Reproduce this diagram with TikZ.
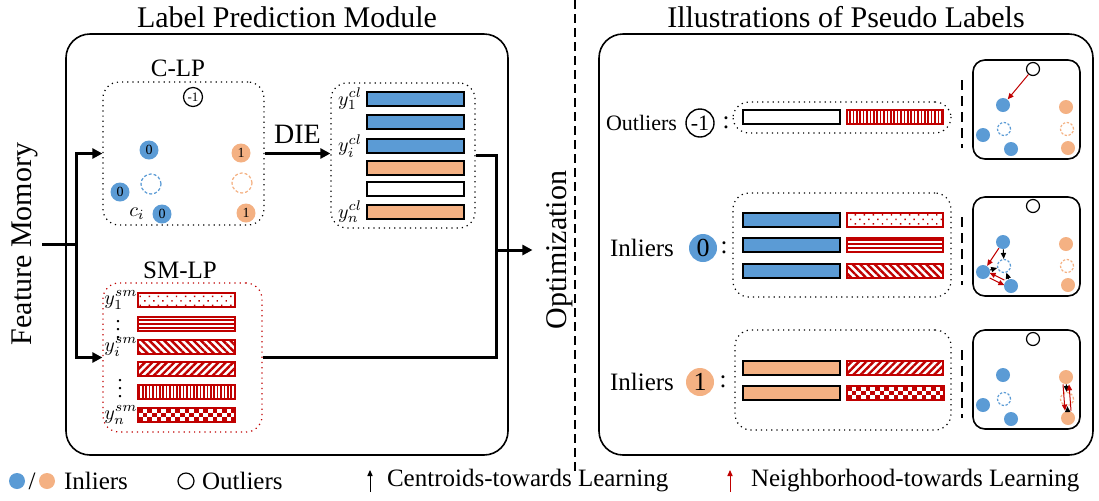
\documentclass[tikz,border=0pt]{standalone}
\usepackage{fontspec}
\setmainfont{Liberation Serif}
\usetikzlibrary{arrows.meta,patterns,patterns.meta,fit}

\definecolor{inblue}{HTML}{5B9BD5}
\definecolor{inorange}{HTML}{F4B183}
\definecolor{plred}{HTML}{C00000}

\tikzset{
  outerbox/.style={draw, line width=0.8pt, rounded corners=12pt, inner sep=0pt},
  dotbox/.style={draw, dotted, line width=0.6pt, rounded corners=8pt, inner sep=0pt},
  minibox/.style={draw, line width=0.8pt, rounded corners=6pt, inner sep=0pt},
  title/.style={font=\fontsize{15}{18}\selectfont},
  flow/.style={line width=1.5pt, -{Triangle[length=5pt,width=5pt]}},
  wire/.style={line width=1.5pt},
  sepline/.style={line width=1pt, dash pattern=on 4.5pt off 2.5pt},
  rowsep/.style={line width=1.3pt, dash pattern=on 5pt off 3pt},
  % circles of the C-LP panel
  bdot/.style={circle, fill=inblue, minimum size=9.5pt, inner sep=0pt, font=\fontsize{7}{8}\selectfont},
  odot/.style={bdot, fill=inorange},
  bcen/.style={circle, draw=inblue, line width=0.6pt, dash pattern=on 1.5pt off 1pt, minimum size=10pt, inner sep=0pt},
  ocen/.style={bcen, draw=inorange},
  outl/.style={circle, draw, line width=0.6pt, minimum size=9.5pt, inner sep=0pt, font=\fontsize{6.5}{7}\selectfont},
  % circles of the small illustrations
  mbdot/.style={circle, fill=inblue, minimum size=7pt, inner sep=0pt},
  modot/.style={mbdot, fill=inorange},
  mbcen/.style={circle, draw=inblue, line width=0.6pt, dash pattern=on 1.2pt off 0.8pt, minimum size=6.5pt, inner sep=0pt},
  mocen/.style={mbcen, draw=inorange},
  mout/.style={circle, draw, line width=0.6pt, minimum size=6.5pt, inner sep=0pt},
  cenarr/.style={line width=0.5pt, -{Triangle[length=3pt,width=2.6pt]}},
  nbarr/.style={cenarr, plred},
  % label rows
  bigc/.style={circle, minimum size=14pt, inner sep=0pt, font=\fontsize{13}{15}\selectfont},
  rowtxt/.style={anchor=east, font=\fontsize{12.5}{15}\selectfont},
  ylab/.style={inner sep=0.3pt, font=\fontsize{10}{12}\selectfont},
  legtxt/.style={anchor=west, font=\fontsize{12.5}{15}\selectfont},
  % bars
  bar/.style={draw, line width=0.6pt},
  redbar/.style={draw=plred, line width=0.7pt, pattern color=plred},
  pdots/.style={redbar, pattern={Dots[distance=3.2pt,angle=45,radius=0.5pt]}},
  phor/.style={redbar, pattern={Lines[angle=0,distance=2pt,line width=1pt]}},
  pnw/.style={redbar, pattern={Lines[angle=-45,distance=2.6pt,line width=1.2pt]}},
  pne/.style={redbar, pattern={Lines[angle=45,distance=2.6pt,line width=1.2pt]}},
  pver/.style={redbar, pattern={Lines[angle=90,distance=1.7pt,line width=0.8pt]}}
}

% checkerboard bar: #1 = left x, #2 = centre y
\newcommand{\chkbar}[2]{%
  \begin{scope}
    \clip (#1,{#2-7}) rectangle ({#1+97},{#2+7});
    \foreach \i in {0,...,20}{
      \foreach \j in {0,1,2}{
        \pgfmathparse{int(mod(\i+\j,2))}
        \ifnum\pgfmathresult=0
          \fill[plred] ({#1+\i*4.67},{#2-7+\j*4.67}) rectangle ++(4.67,4.67);
        \fi
      }
    }
  \end{scope}
  \draw[draw=plred, line width=0.7pt] (#1,{#2-7}) rectangle ({#1+97},{#2+7});
}

\begin{document}
\begin{tikzpicture}[x=0.5pt,y=-0.5pt]
  \useasboundingbox (0,0) rectangle (1099,500);

  % frames and titles
  \node[outerbox, fit={(66,34) (508,455)}] (lpm) {};
  \node[outerbox, fit={(599,34) (1093,455)}] (ipl) {};
  \coordinate (sepT) at (575,0);
  \coordinate (sepB) at (575,475);
  \draw[sepline] (sepT) -- (sepB);
  \node[title] (lpmtitle) at (287,17) {Label Prediction Module};
  \node[title] (ipltitle) at (846,17) {Illustrations of Pseudo Labels};

  % ---- label prediction module
  \node[title, rotate=90, inner sep=2pt] (fm) at (25,244) {Feature Momory};
  \node[title, rotate=90, inner sep=7pt] (opt) at (560,250) {Optimization};

  \node[dotbox, fit={(103,82) (264,225)}] (clp) {};
  \node[title, font=\fontsize{12.5}{15}\selectfont] (clptitle) at (178,68) {C-LP};
  \node[dotbox, draw=plred, fit={(103,283) (262,432)}] (smlp) {};
  \node[title, font=\fontsize{12.5}{15}\selectfont] (smtitle) at (180,270) {SM-LP};
  \node[dotbox, fit={(331,83) (475,228)}] (cl) {};

  % C-LP points
  \node[outl] (c-out) at (193,97) {-1};
  \node[bdot] (c-b1) at (149,150) {0};
  \node[bdot] (c-b2) at (120,192) {0};
  \node[bdot] (c-b3) at (162,214) {0};
  \node[bcen] (c-bc) at (151,184) {};
  \node[ylab] (c-ci) at (137,214) {$c_i$};
  \node[odot] (c-o1) at (241,153) {1};
  \node[odot] (c-o2) at (246,213) {1};
  \node[ocen] (c-oc) at (242,183) {};

  % cluster labels
  \foreach \yc/\col in {99/inblue,122/inblue,146/inblue,168/inorange,189/white,212/inorange}
    \draw[bar, fill=\col] (367,{\yc-7}) rectangle (464,{\yc+7});
  \node[ylab] (cl1) at (350,99) {$y^{cl}_1$};
  \node[ylab] (cli) at (350,146) {$y^{cl}_i$};
  \node[ylab] (cln) at (350,212) {$y^{cl}_n$};

  % similarity labels
  \foreach \yc/\pat in {300/pdots,324/phor,347/pnw,369/pne,392/pver}
    \draw[\pat] (138,{\yc-7}) rectangle (235,{\yc+7});
  \chkbar{138}{415}
  \node[ylab] (sm1) at (121,300) {$y^{sm}_1$};
  \node[ylab] (smd1) at (118,324) {$\vdots$};
  \node[ylab] (smi) at (121,347) {$y^{sm}_i$};
  \node[ylab] (smd2) at (120,383) {$\vdots$};
  \node[ylab] (smn) at (121,415) {$y^{sm}_n$};

  % connectors
  \coordinate (split) at (76,244);
  \coordinate (join) at (496,250);
  \draw[wire] (fm.south) -- (split);
  \draw[flow] (split) |- (clp.west);
  \draw[flow] (split) |- (smlp.west);
  \draw[flow] (clp.east) -- (clp.east -| cl.west)
    node[midway, above=1pt, font=\fontsize{14}{16}\selectfont] {DIE};
  \draw[wire] (cl.east) -| (join);
  \draw[wire] (smlp.east) -| (join);
  \draw[flow] (join) -- (opt.north);

  % ---- pseudo label rows
  \node[rowtxt, font=\fontsize{11}{13}\selectfont] (r1txt) at (684,123) {Outliers};
  \node[bigc, draw, line width=0.7pt, font=\fontsize{11}{13}\selectfont] (r1c) at (700,123) {-1};
  \node[rowtxt, anchor=center] (r1col) at (726,123) {:};
  \node[dotbox, fit={(733,102) (951,133)}] (r1box) {};
  \draw[bar, fill=white] (743,110) rectangle (840,124);
  \draw[pver] (847,110) rectangle (943,124);

  \node[rowtxt] (r2txt) at (681,248) {Inliers};
  \node[bigc, fill=inblue] (r2c) at (703,248) {0};
  \node[rowtxt, anchor=center] (r2col) at (724,248) {:};
  \node[dotbox, fit={(733,193) (951,297)}] (r2box) {};
  \foreach \yc/\pat in {220/pdots,245/phor,271/pnw}{
    \draw[bar, fill=inblue] (743,{\yc-7}) rectangle (840,{\yc+7});
    \draw[\pat] (847,{\yc-7}) rectangle (943,{\yc+7});
  }

  \node[rowtxt] (r3txt) at (681,382) {Inliers};
  \node[bigc, fill=inorange] (r3c) at (700,382) {1};
  \node[rowtxt, anchor=center] (r3col) at (723,382) {:};
  \node[dotbox, fit={(735,330) (951,430)}] (r3box) {};
  \foreach \yc in {368,393}
    \draw[bar, fill=inorange] (743,{\yc-7}) rectangle (840,{\yc+7});
  \draw[pne] (847,361) rectangle (943,375);
  \chkbar{847}{393}

  % ---- small illustrations
  \foreach \k/\t in {1/60,2/197,3/330}{
    \coordinate (sT\k) at (962,\t+20);
    \coordinate (sB\k) at (962,\t+88);
    \draw[rowsep] (sT\k) -- (sB\k);
    \node[minibox, fit={(973,\t) (1080,\t+99)}] (mb\k) {};
    \node[mout] (o\k) at (1033,\t+9) {};
    \node[mbdot] (bt\k) at (1003,\t+45) {};
    \node[mbdot] (bl\k) at (983,\t+75) {};
    \node[mbdot] (bb\k) at (1011,\t+89) {};
    \node[mbcen] (bc\k) at (1004,\t+69) {};
    \node[modot] (ot\k) at (1066,\t+47) {};
    \node[modot] (ob\k) at (1068,\t+88) {};
    \node[mocen] (oc\k) at (1067,\t+69) {};
  }
  % outliers: pulled to a neighbour
  \draw[nbarr] (o1) -- (bt1);
  % inliers 0
  \draw[cenarr] (bt2) -- (bc2);
  \draw[cenarr] (bl2) -- (bc2);
  \draw[cenarr] (bb2) -- (bc2);
  \draw[nbarr] (bt2) -- (bl2);
  \draw[nbarr] ([yshift=-1.3pt]bl2.-27) -- ([yshift=-1.3pt]bb2.153);
  \draw[nbarr] ([yshift=1.3pt]bb2.153) -- ([yshift=1.3pt]bl2.-27);
  % inliers 1
  \draw[cenarr] (ot3) -- (oc3);
  \draw[cenarr] (ob3) -- (oc3);
  \draw[nbarr] ([xshift=1.5pt]ob3.north) -- ([xshift=1.5pt]ot3.south);
  \draw[nbarr] ([xshift=-1.5pt]ot3.south) -- ([xshift=-1.5pt]ob3.north);

  % ---- legend
  \node[mbdot, minimum size=8pt] (lgb) at (17,481) {};
  \node[legtxt, anchor=center] (lgs) at (32,481) {/};
  \node[modot, minimum size=8pt] (lgo) at (47,481) {};
  \node[legtxt] (lgin) at (57,481) {Inliers};
  \node[mout, minimum size=8pt] (lgx) at (186,481) {};
  \node[legtxt] (lgout) at (195,481) {Outliers};
  \coordinate (lc0) at (370,492);
  \coordinate (lc1) at (370,470);
  \draw[cenarr] (lc0) -- (lc1);
  \node[legtxt] (lgcen) at (380,481) {Centroids-towards Learning};
  \coordinate (ln0) at (730,492);
  \coordinate (ln1) at (730,470);
  \draw[nbarr] (ln0) -- (ln1);
  \node[legtxt] (lgnb) at (744,481) {Neighborhood-towards Learning};
\end{tikzpicture}
\end{document}
